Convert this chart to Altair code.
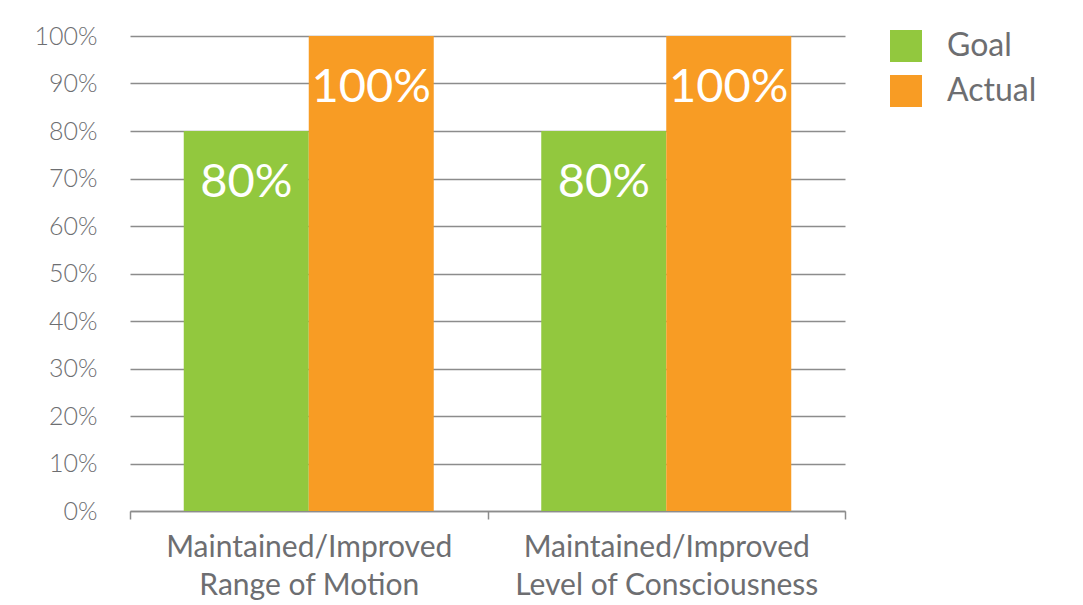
import altair as alt
import pandas as pd

line1 = ["Maintained/Improved", "Maintained/Improved"]
line2 = ["Range of Motion", "Level of Consciousness"]
series = ["Goal", "Actual"]
goal_values = [0.80, 0.80]
actual_values = [1.00, 1.00]
y_ticks = [0, 0.1, 0.2, 0.3, 0.4, 0.5, 0.6, 0.7, 0.8, 0.9, 1.0]

cats = [a + "|" + b for a, b in zip(line1, line2)]
rows = []
for c, g, a in zip(cats, goal_values, actual_values):
    rows.append({"category": c, "series": "Goal", "value": g})
    rows.append({"category": c, "series": "Actual", "value": a})
df = pd.DataFrame(rows)

GRAY = "#6d6e71"
GRID = "#8c8c8c"
FONT = "Lato"

x = alt.X("category:N", sort=cats, title=None,
          scale=alt.Scale(paddingInner=0, paddingOuter=0),
          axis=alt.Axis(labelExpr="datum.value ? split(datum.value, '|') : ''",
                        labelAngle=0, labelLimit=0,
                        labelFontSize=30, labelColor=GRAY, labelFont=FONT,
                        labelFontWeight=400,
                        labelLineHeight=38, labelPadding=13, labelBaseline="top",
                        tickBand="extent", ticks=True, tickSize=8, tickColor=GRID,
                        tickWidth=1.5, domain=True, domainColor=GRID, domainWidth=1.5,
                        grid=False))
xo = alt.XOffset("series:N", sort=series,
                 scale=alt.Scale(paddingInner=0, paddingOuter=0.43))
y = alt.Y("value:Q", title=None,
          scale=alt.Scale(domain=[0, 1], nice=False),
          axis=alt.Axis(values=y_ticks, format=".0%", domain=False, ticks=False,
                        grid=True, gridColor=GRID, gridWidth=1.5,
                        labelFontSize=25, labelColor=GRAY, labelFont=FONT,
                        labelFontWeight=300, labelPadding=33))
color = alt.Color("series:N", sort=series,
                  scale=alt.Scale(domain=series, range=["#92c83e", "#f89c24"]),
                  legend=alt.Legend(title=None, orient="none", legendX=760, legendY=-6,
                                    symbolType="square", symbolSize=1024,
                                    symbolStrokeWidth=0, symbolOpacity=1,
                                    labelFontSize=32, labelColor=GRAY, labelFont=FONT,
                                    labelFontWeight=400,
                                    labelOffset=25, rowPadding=13))

bars = alt.Chart(df).mark_bar().encode(x=x, xOffset=xo, y=y, color=color)
labels = alt.Chart(df).mark_text(color="white", fontSize=47, font=FONT,
                                 fontWeight=400,
                                 baseline="alphabetic", dy=66).encode(
    x=x, xOffset=xo, y=y, text=alt.Text("value:Q", format=".0%"))

chart = alt.layer(bars, labels).properties(
    width=715, height=475,
    background="white",
    autosize=alt.AutoSizeParams(type="none"),
    padding={"left": 122, "top": 28, "right": 230, "bottom": 94},
).configure_view(strokeWidth=0, strokeOpacity=0).configure_axisX(grid=False)

chart.save("out.html", embed_options={"renderer": "svg", "actions": False})
